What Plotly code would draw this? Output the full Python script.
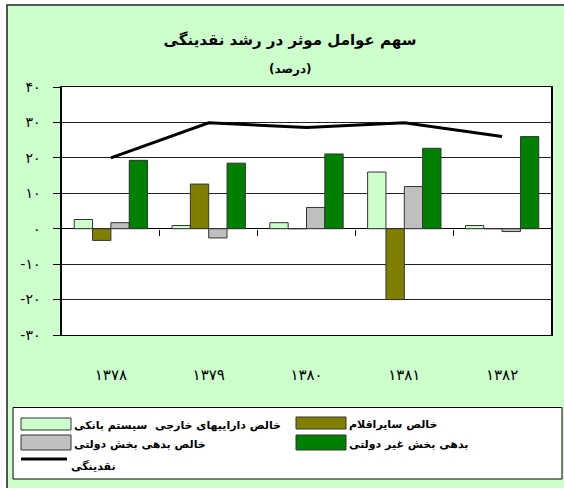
import plotly.graph_objects as go

# ---- data ----
years = ["۱۳۷۸", "۱۳۷۹", "۱۳۸۰", "۱۳۸۱", "۱۳۸۲"]
name_foreign = "خالص داراییهای خارجی  سیستم بانکی"
name_other = "خالص سایراقلام"
name_gov = "خالص بدهی بخش دولتی"
name_nongov = "بدهی بخش غیر دولتی"
name_liq = "نقدینگی"

net_foreign_assets = [2.6, 0.9, 1.7, 16.0, 0.9]
net_other_items = [-3.3, 12.6, 0.0, -20.0, 0.0]
net_gov_debt = [1.7, -2.6, 6.0, 11.9, -0.8]
nongov_debt = [19.3, 18.5, 21.1, 22.7, 26.0]
liquidity = [20.0, 29.9, 28.6, 29.9, 26.0]

y_tick_vals = [-30, -20, -10, 0, 10, 20, 30, 40]
y_tick_text = ["-۳۰", "-۲۰", "-۱۰", "۰", "۱۰", "۲۰", "۳۰", "۴۰"]

title_text = "سهم عوامل موثر در رشد نقدینگی"
subtitle_text = "(درصد)"

FONT = "DejaVu Sans, Noto Sans, sans-serif"
BG = "#CCFFCC"
OUTLINE = "#333333"
colors = {
    name_foreign: "#CCFFCC",
    name_other: "#808000",
    name_gov: "#C0C0C0",
    name_nongov: "#008000",
}

fig = go.Figure()
bar_specs = [
    (name_foreign, net_foreign_assets),
    (name_other, net_other_items),
    (name_gov, net_gov_debt),
    (name_nongov, nongov_debt),
]
for nm, vals in bar_specs:
    fig.add_trace(go.Bar(x=years, y=vals, name=nm,
                         marker=dict(color=colors[nm], line=dict(color=OUTLINE, width=1))))

fig.add_trace(go.Scatter(x=years, y=liquidity, name=name_liq, mode="lines",
                         line=dict(color="black", width=3)))

# helper trace for the boundary tick marks on the zero line
fig.add_trace(go.Scatter(x=[], y=[], xaxis="x2", showlegend=False, hoverinfo="skip"))

W, H = 564, 488
L, R, T, B = 62, 13, 87, 153
pw, ph = W - L - R, H - T - B


def px_x(px):
    return (px - L) / pw


def px_y(py):
    return (H - B - py) / ph


y_min, y_max = -30, 40
zero_pos = (0 - y_min) / (y_max - y_min)
LEG_FONT = dict(family=FONT, size=11, weight="bold", color="black")

shapes = [
    # white strips outside the chart frame (top and left)
    dict(type="rect", xref="paper", yref="paper",
         x0=px_x(-5), y0=px_y(5), x1=px_x(575), y1=px_y(-5),
         line=dict(width=0), fillcolor="white", layer="below"),
    dict(type="rect", xref="paper", yref="paper",
         x0=px_x(-5), y0=px_y(500), x1=px_x(7), y1=px_y(-5),
         line=dict(width=0), fillcolor="white", layer="below"),
    # outer chart border (left and top visible)
    dict(type="rect", xref="paper", yref="paper",
         x0=px_x(7), y0=px_y(500), x1=px_x(575), y1=px_y(5),
         line=dict(color="#222222", width=1.5), fillcolor="rgba(0,0,0,0)", layer="below"),
    # legend box
    dict(type="rect", xref="paper", yref="paper",
         x0=px_x(13), y0=px_y(479), x1=px_x(562), y1=px_y(407.5),
         line=dict(color="black", width=1), fillcolor="white", layer="above"),
]
annotations = [
    dict(text=subtitle_text, xref="paper", yref="paper",
         x=px_x(290), y=px_y(69), xanchor="center", yanchor="middle",
         showarrow=False, font=dict(family=FONT, size=12, weight="bold", color="black")),
]
legend_items = [
    (name_foreign, 21, 418, 430),
    (name_other, 296, 417, 429),
    (name_gov, 21, 435, 450),
    (name_nongov, 296, 435, 450),
]
for nm, x0, y0, y1 in legend_items:
    shapes.append(dict(type="rect", xref="paper", yref="paper",
                       x0=px_x(x0), x1=px_x(x0 + 50), y0=px_y(y1), y1=px_y(y0),
                       line=dict(color=OUTLINE, width=1), fillcolor=colors[nm], layer="above"))
    annotations.append(dict(text=nm, xref="paper", yref="paper", x=px_x(x0 + 52),
                            y=px_y((y0 + y1) / 2 + 1.5), xanchor="left", yanchor="middle",
                            showarrow=False, borderpad=0, font=LEG_FONT))
shapes.append(dict(type="line", xref="paper", yref="paper",
                   x0=px_x(21), x1=px_x(67), y0=px_y(459), y1=px_y(459),
                   line=dict(color="black", width=3), layer="above"))
annotations.append(dict(text=name_liq, xref="paper", yref="paper", x=px_x(70),
                        y=px_y(466), xanchor="left", yanchor="middle", showarrow=False,
                        borderpad=0, font=LEG_FONT))

fig.update_layout(
    width=W, height=H,
    margin=dict(l=L, r=R, t=T, b=B, autoexpand=False),
    paper_bgcolor=BG,
    plot_bgcolor="white",
    barmode="group",
    bargap=0.25,
    bargroupgap=0,
    showlegend=False,
    font=dict(family=FONT, color="black"),
    title=dict(text=title_text, x=290 / W, xanchor="center", y=1 - 40 / H, yanchor="middle",
               font=dict(family=FONT, size=15, weight="bold", color="black")),
    annotations=annotations,
    shapes=shapes,
    xaxis=dict(type="category", showline=True, linecolor="black", linewidth=1, mirror=True,
               ticks="", showgrid=False, ticklabelstandoff=26,
               tickfont=dict(family=FONT, size=15, color="black")),
    xaxis2=dict(overlaying="x", anchor="free", position=zero_pos, range=[-0.5, 4.5],
                tickvals=[0.5, 1.5, 2.5, 3.5], ticks="outside", ticklen=6, tickcolor="black",
                tickwidth=1, showticklabels=False, showgrid=False, showline=False, zeroline=False),
    yaxis=dict(range=[y_min, y_max], tickvals=y_tick_vals, ticktext=y_tick_text,
               showline=True, linecolor="black", linewidth=1.5, mirror=True,
               ticks="outside", ticklen=7, tickcolor="black",
               showgrid=True, gridcolor="#222222", gridwidth=1,
               zeroline=True, zerolinecolor="black", zerolinewidth=1,
               ticklabelstandoff=10,
               tickfont=dict(family=FONT, size=14, color="black")),
)

fig.write_html("out.html", config={"displayModeBar": False},
               post_script="document.body.style.margin='0px';")
